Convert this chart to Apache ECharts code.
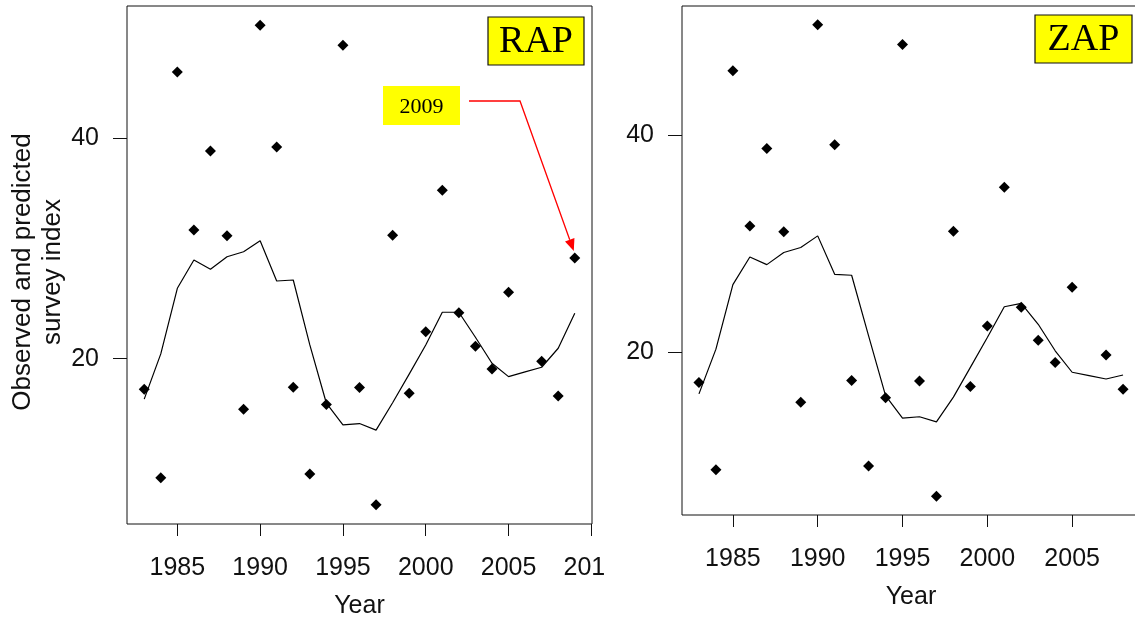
<!DOCTYPE html>
<html>
<head>
<meta charset="utf-8">
<script src="https://cdn.jsdelivr.net/npm/echarts@6/dist/echarts.min.js"></script>
<style>
  html, body { margin: 0; padding: 0; background: #fff; }
  .wrap { position: absolute; top: 0; height: 621px; overflow: hidden; }
</style>
</head>
<body>
<div class="wrap" style="left:0;width:605px"><div id="cL" style="width:605px;height:621px"></div></div>
<div class="wrap" style="left:605px;width:530px"><div id="cR" style="width:560px;height:621px"></div></div>
<script>
// Observed survey index (no survey in 2006)
var obsYears = [1983, 1984, 1985, 1986, 1987, 1988, 1989, 1990, 1991, 1992, 1993, 1994, 1995,
                1996, 1997, 1998, 1999, 2000, 2001, 2002, 2003, 2004, 2005, 2007, 2008, 2009];
var obsIndex = [17.23, 9.20, 45.97, 31.65, 38.8, 31.13, 15.42, 50.2, 39.16, 17.41, 9.54, 15.84, 48.39,
                17.38, 6.76, 31.17, 16.87, 22.44, 35.24, 24.16, 21.12, 19.07, 26.01, 19.77, 16.62, 29.11];

// Predicted index, RAP fit (1983-2009)
var rapYears = [1983, 1984, 1985, 1986, 1987, 1988, 1989, 1990, 1991, 1992, 1993, 1994, 1995, 1996,
                1997, 1998, 1999, 2000, 2001, 2002, 2003, 2004, 2005, 2006, 2007, 2008, 2009];
var rapPred  = [16.33, 20.43, 26.37, 28.93, 28.09, 29.23, 29.68, 30.68, 27.03, 27.12, 21.24, 15.96, 14.0, 14.12,
                13.52, 16.0, 18.6, 21.24, 24.2, 24.2, 21.94, 19.58, 18.37, 18.8, 19.22, 20.94, 24.11];

// Predicted index, ZAP fit (1983-2008)
var zapYears = [1983, 1984, 1985, 1986, 1987, 1988, 1989, 1990, 1991, 1992, 1993, 1994, 1995, 1996,
                1997, 1998, 1999, 2000, 2001, 2002, 2003, 2004, 2005, 2006, 2007, 2008];
var zapPred  = [16.19, 20.31, 26.26, 28.8, 28.1, 29.22, 29.68, 30.75, 27.21, 27.12, 21.53, 16.03, 13.96, 14.08,
                13.6, 15.89, 18.63, 21.38, 24.22, 24.52, 22.6, 20.16, 18.18, 17.87, 17.56, 17.93];

var xTicks = [1985, 1990, 1995, 2000, 2005, 2010];
var yTicks = [20, 40];
var yTitle = ['Observed and predicted', 'survey index'];
var xTitle = 'Year';

var SANS = '"Liberation Sans", Arial, sans-serif';
var SERIF = '"Liberation Serif", "Times New Roman", serif';

function zip(a, b) { return a.map(function (v, i) { return [v, b[i]]; }); }

// axis range padded by 4% on each side
function padded(vals) {
  var lo = Math.min.apply(null, vals), hi = Math.max.apply(null, vals), d = (hi - lo) * 0.04;
  return [lo - d, hi + d];
}

function panelOption(p) {
  var xr = padded(p.xs), yr = padded(p.ys);
  return {
    animation: false,
    grid: { left: p.left, top: 6, width: p.width, height: p.height, show: true,
            outerBoundsMode: 'none', containLabel: false,
            borderColor: '#111', borderWidth: 1, backgroundColor: 'transparent' },
    xAxis: {
      type: 'value', min: xr[0], max: xr[1],
      axisLine: { show: false }, splitLine: { show: false },
      axisTick: { show: true, inside: false, length: 12, customValues: xTicks,
                  lineStyle: { color: '#111', width: 1 } },
      axisLabel: { show: true, customValues: xTicks, margin: 32, color: '#111', hideOverlap: false,
                   fontFamily: SANS, fontSize: 25, formatter: function (v) { return String(v); } },
      name: xTitle, nameLocation: 'middle', nameGap: 70,
      nameTextStyle: { color: '#111', fontFamily: SANS, fontSize: 25 }
    },
    yAxis: {
      type: 'value', min: yr[0], max: yr[1],
      axisLine: { show: false }, splitLine: { show: false },
      axisTick: { show: true, inside: false, length: 14, customValues: yTicks,
                  lineStyle: { color: '#111', width: 1 } },
      axisLabel: { show: true, customValues: yTicks, margin: 28, color: '#111',
                   fontFamily: SANS, fontSize: 25 }
    },
    series: [
      { type: 'line', data: p.pred, showSymbol: false, symbol: 'none', z: 2,
        lineStyle: { color: '#000', width: 1.2 } },
      { type: 'scatter', data: p.obs, symbol: 'diamond', symbolSize: 11, z: 3,
        itemStyle: { color: '#000', opacity: 1 } }
    ],
    graphic: p.graphic
  };
}

function modelTag(id, label, x, y, w, h) {
  return {
    id: id, type: 'group', x: x, y: y, children: [
      { type: 'rect', shape: { x: 0, y: 0, width: w, height: h },
        style: { fill: '#ffff00', stroke: '#111', lineWidth: 1.2 } },
      { type: 'text', x: w / 2, y: h / 2 + 1,
        style: { text: label, fill: '#000', font: '38px ' + SERIF, align: 'center', verticalAlign: 'middle' } }
    ]
  };
}

// ---- RAP panel ----
var obsL = zip(obsYears, obsIndex);
var predL = zip(rapYears, rapPred);
var chartL = echarts.init(document.getElementById('cL'), null, { renderer: 'canvas' });
chartL.setOption(panelOption({
  left: 127, width: 465, height: 518,
  xs: obsYears.concat(rapYears), ys: obsIndex.concat(rapPred),
  obs: obsL, pred: predL,
  graphic: [
    { id: 'ytitle1', type: 'text', x: 23, y: 272, rotation: Math.PI / 2,
      style: { text: yTitle[0], fill: '#111', font: '26px ' + SANS, align: 'center', verticalAlign: 'middle' } },
    { id: 'ytitle2', type: 'text', x: 53, y: 272, rotation: Math.PI / 2,
      style: { text: yTitle[1], fill: '#111', font: '26px ' + SANS, align: 'center', verticalAlign: 'middle' } },
    modelTag('tagRAP', 'RAP', 488, 17, 96, 48)
  ]
}));

// callout pointing at the 2009 survey value
(function () {
  var last = obsL[obsL.length - 1];
  var tip = chartL.convertToPixel({ xAxisIndex: 0, yAxisIndex: 0 }, last);
  tip = [tip[0] - 1, tip[1] - 7];
  var elbow = [520, 101];
  var dx = tip[0] - elbow[0], dy = tip[1] - elbow[1], len = Math.sqrt(dx * dx + dy * dy);
  var ux = dx / len, uy = dy / len, hl = 12, hw = 5;
  var base = [tip[0] - ux * hl, tip[1] - uy * hl];
  chartL.setOption({
    graphic: [
      { id: 'yearBox', type: 'rect', shape: { x: 383, y: 86, width: 77, height: 39 }, style: { fill: '#ffff00' } },
      { id: 'yearText', type: 'text', x: 421.5, y: 107,
        style: { text: String(last[0]), fill: '#000', font: '22px ' + SERIF, align: 'center', verticalAlign: 'middle' } },
      { id: 'arrowShaft', type: 'polyline', shape: { points: [[469, 101], elbow, base] },
        style: { stroke: '#ff0000', lineWidth: 1.3, fill: null } },
      { id: 'arrowHead', type: 'polygon',
        shape: { points: [tip, [base[0] - uy * hw, base[1] + ux * hw], [base[0] + uy * hw, base[1] - ux * hw]] },
        style: { fill: '#ff0000' } }
    ]
  });
})();

// ---- ZAP panel ----
var obsR = zip(obsYears.slice(0, -1), obsIndex.slice(0, -1));
var predR = zip(zapYears, zapPred);
var chartR = echarts.init(document.getElementById('cR'), null, { renderer: 'canvas' });
chartR.setOption(panelOption({
  left: 77, width: 458, height: 509,
  xs: obsYears.slice(0, -1).concat(zapYears), ys: obsIndex.concat(zapPred),
  obs: obsR, pred: predR,
  graphic: [ modelTag('tagZAP', 'ZAP', 430, 15, 97, 48) ]
}));
</script>
</body>
</html>
